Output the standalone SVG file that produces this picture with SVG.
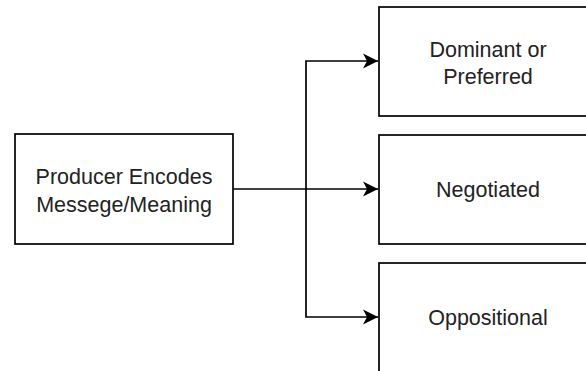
<svg xmlns="http://www.w3.org/2000/svg" width="586" height="371" viewBox="0 0 586 371">
<style>
.box{fill:#fff;stroke:#000;stroke-width:1.7}
.lbl{font-family:"Liberation Sans",Arial,sans-serif;font-size:21.5px;fill:#222;text-anchor:middle}
.edge{fill:none;stroke:#000;stroke-width:1.7}
</style>
<defs>
<marker id="arr" markerUnits="userSpaceOnUse" markerWidth="18" markerHeight="18" refX="16" refY="9" orient="auto">
<path d="M1,1.5 L16,9 L1,16.5 L5,9 Z" fill="#000"/>
</marker>
</defs>
<rect width="586" height="371" fill="#fff"/>
<g id="connectors">
<path class="edge" d="M233,189 L378,189" marker-end="url(#arr)"/>
<path class="edge" d="M306,189 L306,61 L378,61" marker-end="url(#arr)"/>
<path class="edge" d="M306,189 L306,317 L378,317" marker-end="url(#arr)"/>
</g>
<g id="producer">
<rect class="box" x="15" y="134" width="218" height="110"/>
<text class="lbl" x="124" y="184">Producer Encodes</text>
<text class="lbl" x="124" y="212">Messege/Meaning</text>
</g>
<g id="dominant">
<rect class="box" x="379" y="7" width="218" height="109"/>
<text class="lbl" x="488" y="57">Dominant or</text>
<text class="lbl" x="488" y="84">Preferred</text>
</g>
<g id="negotiated">
<rect class="box" x="379" y="135" width="218" height="109"/>
<text class="lbl" x="488" y="197">Negotiated</text>
</g>
<g id="oppositional">
<rect class="box" x="379" y="263" width="218" height="110"/>
<text class="lbl" x="488" y="325">Oppositional</text>
</g>
</svg>
